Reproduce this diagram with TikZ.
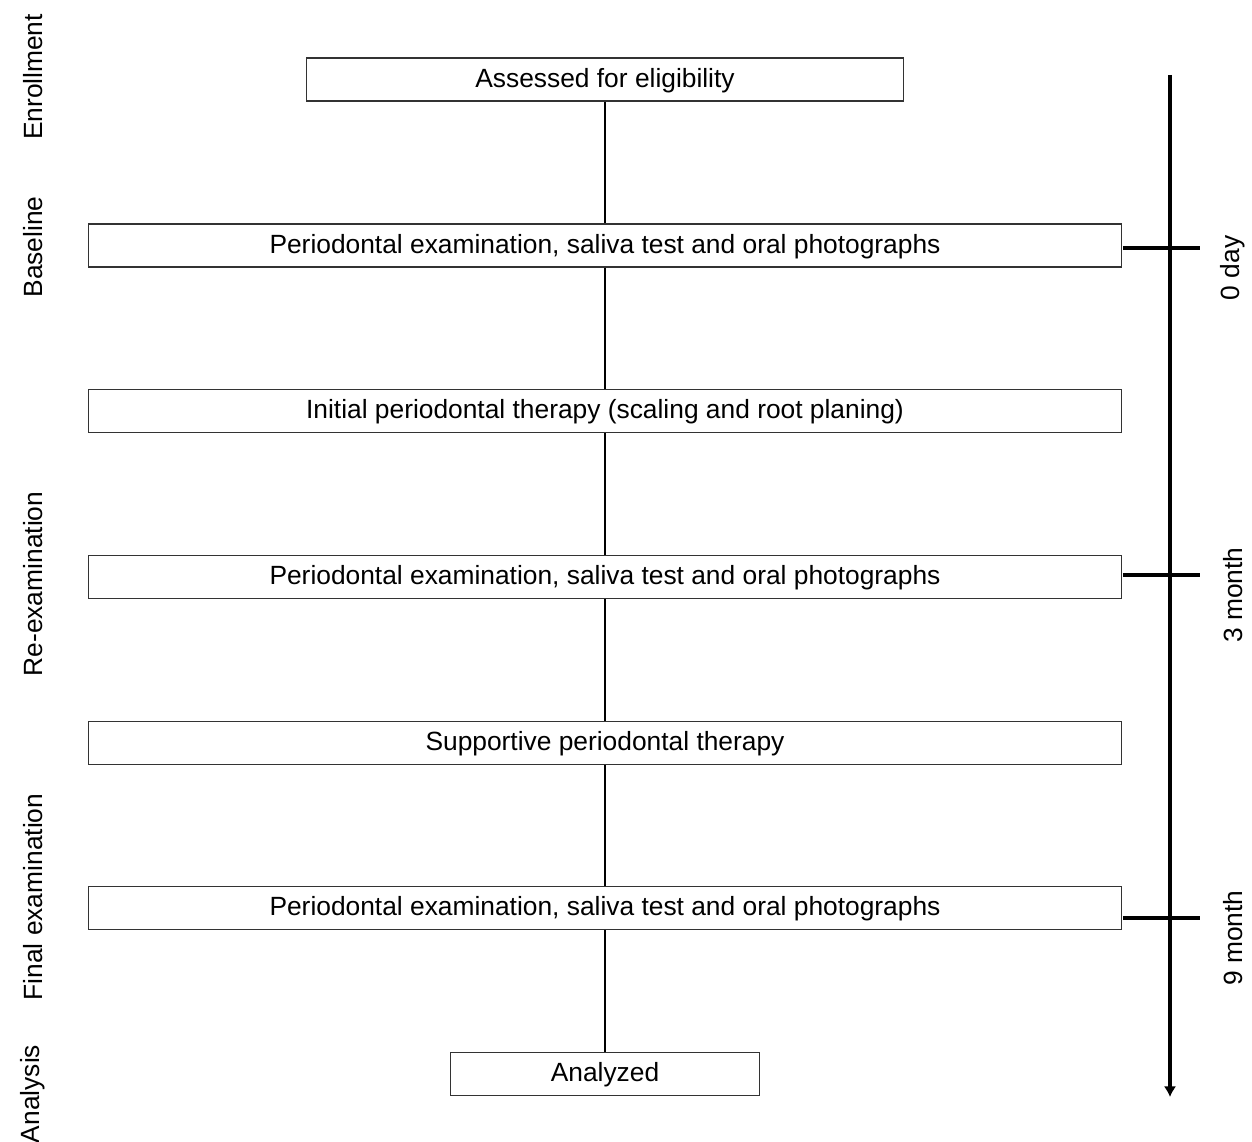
\documentclass[tikz,border=0pt]{standalone}
\usepackage{fontspec}
\setmainfont{Liberation Sans}
\usetikzlibrary{arrows.meta}
\begin{document}
\begin{tikzpicture}[x=0.02cm,y=-0.02cm,>=latex,
  font=\fontsize{15}{18}\selectfont,
  stage/.style={draw=black!80, line width=0.6pt, inner sep=0pt, minimum height=0.86cm,
    text height=0.9em, text depth=0em},
  wide/.style={stage, minimum width=20.68cm},
  phase/.style={rotate=90},
  tick/.style={line width=2.2pt}]

  \useasboundingbox (0,0) rectangle (1252,1142);

%%%%%%%%%%%%%%%%%%%%%%%%%%%%%%%%%%%%%%%%%%
  % Boxes
  \node[stage, minimum width=11.96cm] (assess) at (605,79.5) {Assessed for eligibility};
  \node[wide] (base) at (605,245.5) {Periodontal examination, saliva test and oral photographs};
  \node[wide] (init) at (605,411) {Initial periodontal therapy (scaling and root planing)};
  \node[wide] (reexam) at (605,577) {Periodontal examination, saliva test and oral photographs};
  \node[wide] (support) at (605,743) {Supportive periodontal therapy};
  \node[wide] (final) at (605,908) {Periodontal examination, saliva test and oral photographs};
  \node[stage, minimum width=6.18cm] (anal) at (605,1074) {Analyzed};

  % Connectors
  \draw[line width=0.6pt] (assess) -- (base) -- (init) -- (reexam) -- (support) -- (final) -- (anal);

  % Phase labels
  \node[phase] (enroll) at (33,77) {Enrollment};
  \node[phase] (baseline) at (33,247) {Baseline};
  \node[phase] (reex) at (33,584) {Re-examination};
  \node[phase] (finex) at (33,897) {Final examination};
  \node[phase] (analysis) at (33,1094) {Analysis};

%%%%%%%%%%%%%%%%%%%%%%%%%%%%%%%%%%%%%%%%%%
  % Time line
  \coordinate (top) at (1170,75);
  \coordinate (bottom) at (1170,1097);
  \draw[-{Latex[length=6pt,width=7pt]}, line width=2.2pt] (top) -- (bottom);

  % Ticks
  \foreach \y/\t/\name in {248/0 day/day0, 575/3 month/m3, 918/9 month/m9} {
    \coordinate (\name-l) at (1123,\y);
    \coordinate (\name-r) at (1200,\y);
    \draw[tick] (\name-l) -- (\name-r);
    \node[phase] (\name) at (1233,\y+20) {\t};
  }

\end{tikzpicture}
\end{document}
